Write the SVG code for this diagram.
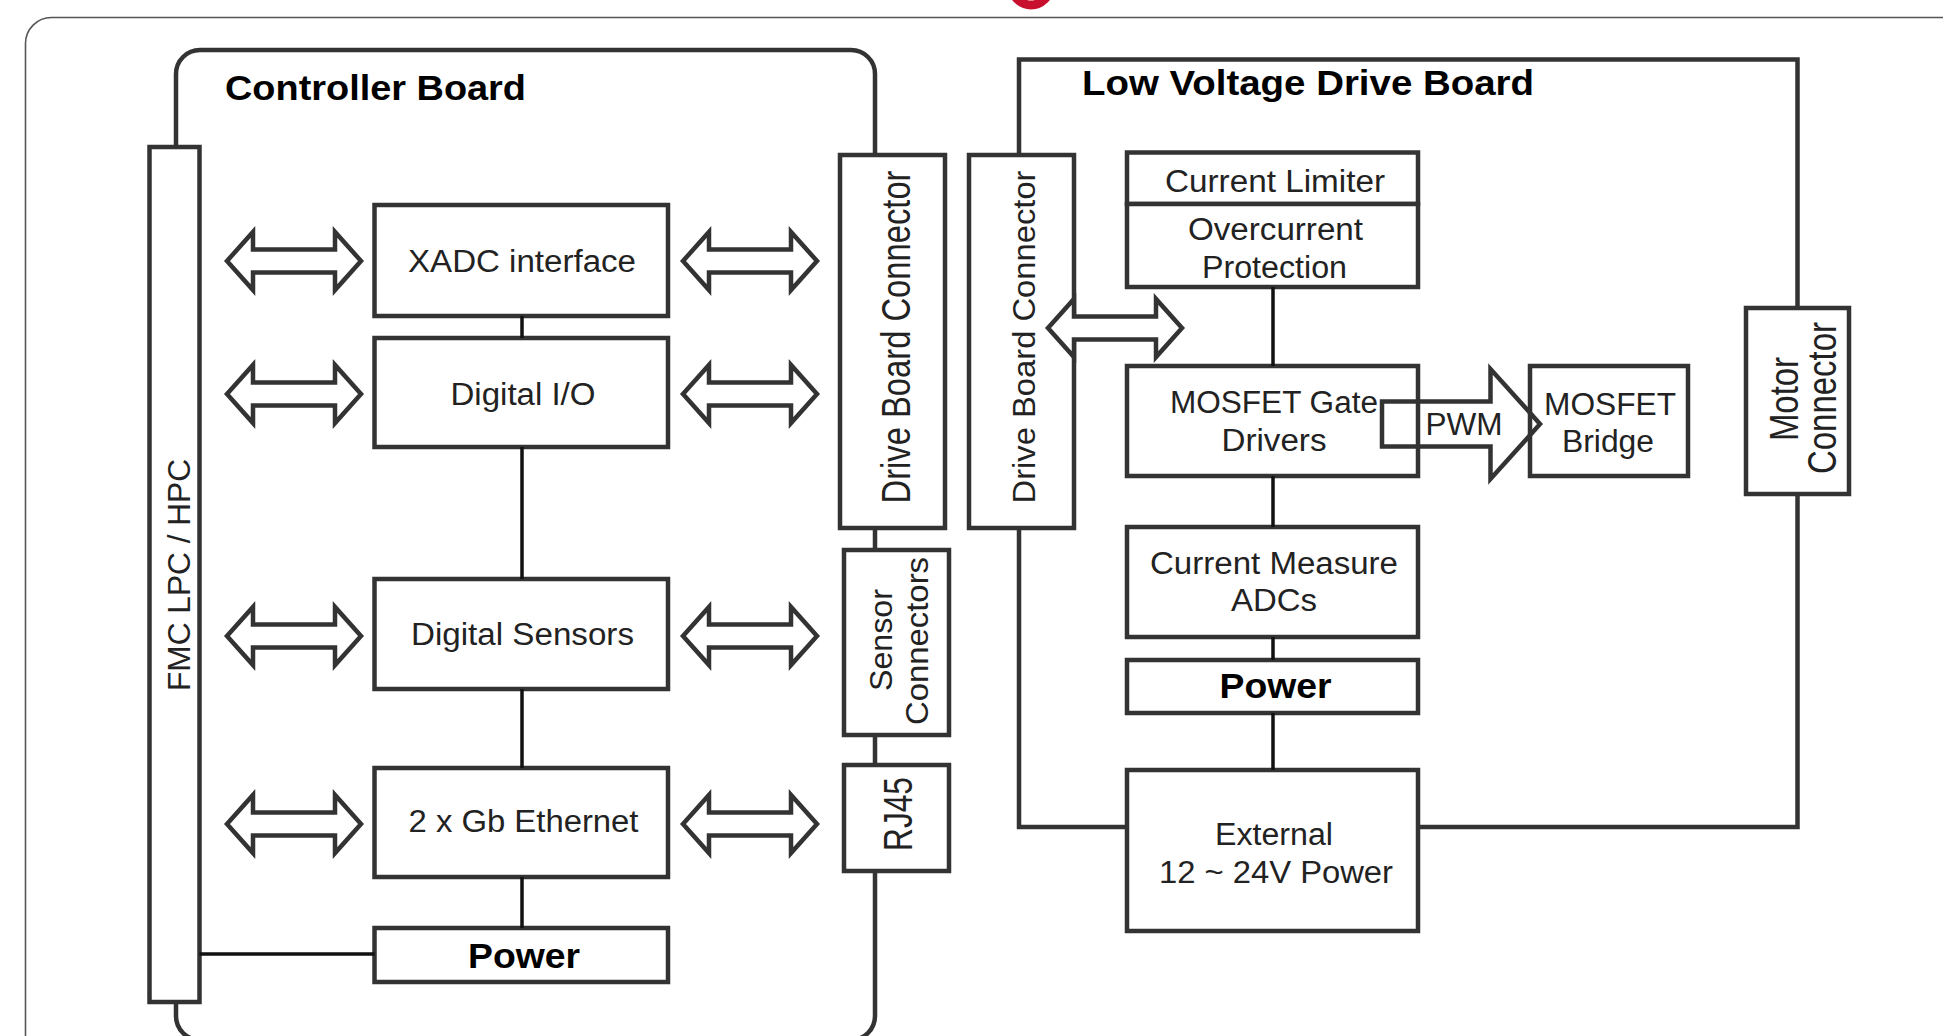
<svg xmlns="http://www.w3.org/2000/svg" width="1943" height="1036" viewBox="0 0 1943 1036">
<style>
  .box{fill:#fff;stroke:#333;stroke-width:4.5}
  .board{fill:none;stroke:#333;stroke-width:4.5}
  .wire{fill:none;stroke:#111;stroke-width:3.5}
  .arr{fill:#fff;stroke:#333;stroke-width:4.5;stroke-linejoin:miter}
  .t{font-family:"Liberation Sans",Arial,sans-serif;font-size:31px;fill:#222;text-anchor:middle}
  .b{font-weight:bold;fill:#000;font-size:35px}
  .v{font-size:40px}
  .title{font-family:"Liberation Sans",Arial,sans-serif;font-weight:bold;fill:#000;font-size:35px}
</style>
<defs>
  <path id="dbl" d="M-67,0 L-41,-29 V-11.5 H41 V-29 L67,0 L41,29 V11.5 H-41 V29 Z"/>
</defs>
<rect id="frame" x="25.5" y="17.5" width="1960" height="1060" rx="26" fill="none" stroke="#555" stroke-width="1.6"/>
<circle cx="1031" cy="-14" r="19" fill="none" stroke="#c8102e" stroke-width="9"/>

<g id="controller-board">
  <rect class="board" x="176" y="50" width="699" height="990" rx="24"/>
  <text class="title" x="225" y="100" textLength="301" lengthAdjust="spacingAndGlyphs">Controller Board</text>
</g>
<g id="drive-board">
  <rect class="board" x="1019" y="59.5" width="778.5" height="767.5"/>
  <text class="title" x="1082" y="95" font-size="36" textLength="452" lengthAdjust="spacingAndGlyphs">Low Voltage Drive Board</text>
</g>

<g id="fmc">
  <rect class="box" x="149.5" y="147" width="50" height="855"/>
  <text class="t" font-size="36" transform="translate(189.5,575) rotate(-90)" textLength="232" lengthAdjust="spacingAndGlyphs">FMC LPC / HPC</text>
</g>
<g id="xadc">
  <rect class="box" x="374.5" y="205" width="293.5" height="111"/>
  <text class="t" x="522" y="272" textLength="228" lengthAdjust="spacingAndGlyphs">XADC interface</text>
</g>
<g id="digital-io">
  <rect class="box" x="374.5" y="338" width="293.5" height="109"/>
  <text class="t" x="523" y="405" textLength="145" lengthAdjust="spacingAndGlyphs">Digital I/O</text>
</g>
<g id="digital-sensors">
  <rect class="box" x="374.5" y="579" width="293.5" height="110"/>
  <text class="t" x="522.5" y="645" textLength="223" lengthAdjust="spacingAndGlyphs">Digital Sensors</text>
</g>
<g id="ethernet">
  <rect class="box" x="374.5" y="768" width="293.5" height="109"/>
  <text class="t" x="523.5" y="832" textLength="230" lengthAdjust="spacingAndGlyphs">2 x Gb Ethernet</text>
</g>
<g id="ctrl-power">
  <rect class="box" x="374.5" y="928" width="293.5" height="54"/>
  <text class="t b" x="524" y="968" textLength="112" lengthAdjust="spacingAndGlyphs">Power</text>
</g>
<g id="ctrl-drive-connector">
  <rect class="box" x="840" y="155" width="105" height="373"/>
  <text class="t v" transform="translate(909.5,337) rotate(-90)" textLength="333" lengthAdjust="spacingAndGlyphs">Drive Board Connector</text>
</g>
<g id="sensor-connectors">
  <rect class="box" x="844" y="550" width="105" height="185"/>
  <text class="t" font-size="35" transform="translate(891.5,640) rotate(-90)" textLength="102" lengthAdjust="spacingAndGlyphs">Sensor</text>
  <text class="t" font-size="35" transform="translate(927.5,641) rotate(-90)" textLength="168" lengthAdjust="spacingAndGlyphs">Connectors</text>
</g>
<g id="rj45">
  <rect class="box" x="844" y="765" width="105" height="106"/>
  <text class="t v" transform="translate(911.5,814) rotate(-90)" textLength="74" lengthAdjust="spacingAndGlyphs">RJ45</text>
</g>

<g id="drive-drive-connector">
  <rect class="box" x="969" y="155" width="105" height="373"/>
  <text class="t" font-size="39" transform="translate(1035,337) rotate(-90)" textLength="333" lengthAdjust="spacingAndGlyphs">Drive Board Connector</text>
</g>
<g id="current-limiter">
  <rect class="box" x="1127" y="152.5" width="291" height="51.5"/>
  <text class="t" x="1275" y="192" textLength="220" lengthAdjust="spacingAndGlyphs">Current Limiter</text>
</g>
<g id="overcurrent">
  <rect class="box" x="1127" y="204" width="291" height="83"/>
  <text class="t" x="1275.5" y="240" textLength="175" lengthAdjust="spacingAndGlyphs">Overcurrent</text>
  <text class="t" x="1274.5" y="278" textLength="145" lengthAdjust="spacingAndGlyphs">Protection</text>
</g>
<g id="gate-drivers">
  <rect class="box" x="1127" y="366" width="291" height="110"/>
  <text class="t" x="1274" y="413" textLength="208" lengthAdjust="spacingAndGlyphs">MOSFET Gate</text>
  <text class="t" x="1274" y="451" textLength="105" lengthAdjust="spacingAndGlyphs">Drivers</text>
</g>
<g id="mosfet-bridge">
  <rect class="box" x="1530" y="366" width="158" height="110"/>
  <text class="t" x="1610" y="415" textLength="132" lengthAdjust="spacingAndGlyphs">MOSFET</text>
  <text class="t" x="1608" y="452" textLength="92" lengthAdjust="spacingAndGlyphs">Bridge</text>
</g>
<g id="motor-connector">
  <rect class="box" x="1746" y="308" width="103" height="186"/>
  <text class="t v" transform="translate(1798,399) rotate(-90)" textLength="84" lengthAdjust="spacingAndGlyphs">Motor</text>
  <text class="t v" transform="translate(1836,398) rotate(-90)" textLength="152" lengthAdjust="spacingAndGlyphs">Connector</text>
</g>
<g id="current-measure">
  <rect class="box" x="1127" y="527" width="291" height="110"/>
  <text class="t" x="1274" y="574" textLength="248" lengthAdjust="spacingAndGlyphs">Current Measure</text>
  <text class="t" x="1274" y="611" textLength="86" lengthAdjust="spacingAndGlyphs">ADCs</text>
</g>
<g id="drive-power">
  <rect class="box" x="1127" y="660" width="291" height="53"/>
  <text class="t b" x="1275.5" y="698" textLength="112" lengthAdjust="spacingAndGlyphs">Power</text>
</g>
<g id="external-power">
  <rect class="box" x="1127" y="770" width="291" height="161"/>
  <text class="t" x="1274" y="845" textLength="118" lengthAdjust="spacingAndGlyphs">External</text>
  <text class="t" x="1276" y="883" textLength="234" lengthAdjust="spacingAndGlyphs">12 ~ 24V Power</text>
</g>

<g id="connectors">
  <path class="wire" d="M522,316V338 M522,447V579 M522,689V768 M522,877V928 M199.5,954H374.5 M1273,287V366 M1273,476V527 M1273,637V660 M1273,713V770"/>
  <use href="#dbl" class="arr" x="294" y="261"/>
  <use href="#dbl" class="arr" x="750" y="261"/>
  <use href="#dbl" class="arr" x="294" y="394"/>
  <use href="#dbl" class="arr" x="750" y="394"/>
  <use href="#dbl" class="arr" x="294" y="636"/>
  <use href="#dbl" class="arr" x="750" y="636"/>
  <use href="#dbl" class="arr" x="294" y="824"/>
  <use href="#dbl" class="arr" x="750" y="824"/>
  <use href="#dbl" class="arr" x="1115" y="328"/>
  <path d="M1382,401.5 H1490.5 V369 L1540,424 L1490.5,479 V446.5 H1382 Z" fill="none" stroke="#333" stroke-width="4.5"/>
  <text class="t" x="1464" y="435" textLength="77" lengthAdjust="spacingAndGlyphs">PWM</text>
</g>
</svg>
